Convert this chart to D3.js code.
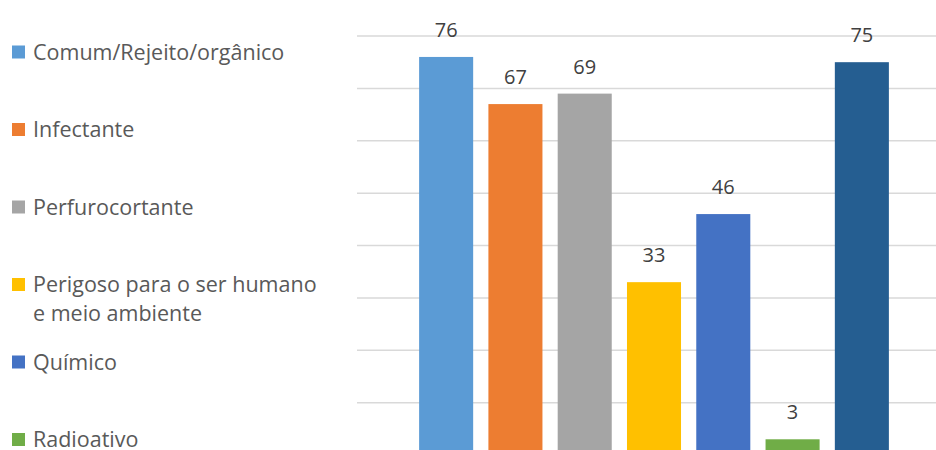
<!DOCTYPE html>
<html lang="en">
<head>
    <meta charset="UTF-8">
    <title>Resíduos</title>
    <style>
        body {
            margin: 0;
            padding: 0;
            background-color: #ffffff;
            font-family: 'Open Sans', sans-serif;
        }
        svg {
            display: block;
        }
    </style>
</head>
<body>
    <svg id="chart" width="936" height="450"></svg>
    <script src="https://d3js.org/d3.v7.min.js"></script>
    <script>
        // data
        const categories = [
            "Comum/Rejeito/orgânico",
            "Infectante",
            "Perfurocortante",
            "Perigoso para o ser humano e meio ambiente",
            "Químico",
            "Radioativo",
            "Outros"
        ];
        const values = [76, 67, 69, 33, 46, 3, 75];
        const gridTicks = [10, 20, 30, 40, 50, 60, 70, 80];
        const colors = ["#5b9bd5", "#ed7d31", "#a5a5a5", "#ffc000", "#4472c4", "#70ad47", "#255e91"];

        const svg = d3.select("#chart");

        const x = d3.scaleBand()
            .domain(categories)
            .range([411.5, 896.5])
            .paddingInner(0.22)
            .paddingOuter(0.11);

        const y = d3.scaleLinear()
            .domain([0, 80])
            .range([455, 36]);

        // gridlines
        svg.append("g")
            .selectAll("line")
            .data(gridTicks)
            .enter()
            .append("line")
            .attr("x1", 357)
            .attr("x2", 936)
            .attr("y1", d => y(d))
            .attr("y2", d => y(d))
            .attr("stroke", "#d9d9d9")
            .attr("stroke-width", 1.5);

        // bars
        svg.append("g")
            .selectAll("rect")
            .data(values)
            .enter()
            .append("rect")
            .attr("x", (d, i) => x(categories[i]))
            .attr("y", d => y(d))
            .attr("width", x.bandwidth())
            .attr("height", d => y(0) - y(d))
            .attr("fill", (d, i) => colors[i]);

        // value labels
        svg.append("g")
            .selectAll("text")
            .data(values)
            .enter()
            .append("text")
            .attr("x", (d, i) => x(categories[i]) + x.bandwidth() / 2)
            .attr("y", d => y(d) - 20)
            .attr("text-anchor", "middle")
            .attr("font-size", "20px")
            .attr("fill", "#404040")
            .text(d => d);

        // legend on the left, one entry every 77.5px
        const legend = svg.append("g");
        const wrapped = {
            "Perigoso para o ser humano e meio ambiente": ["Perigoso para o ser humano", "e meio ambiente"]
        };
        categories.forEach((c, i) => {
            const cy = 52 + i * 77.5;
            legend.append("rect")
                .attr("x", 12)
                .attr("y", cy - 6.5)
                .attr("width", 13)
                .attr("height", 13)
                .attr("fill", colors[i]);
            const lines = wrapped[c] || [c];
            const t = legend.append("text")
                .attr("x", 33)
                .attr("y", cy + 7.5)
                .attr("font-size", "21.5px")
                .attr("fill", "#595959");
            lines.forEach((l, j) => {
                t.append("tspan")
                    .attr("x", 33)
                    .attr("dy", j === 0 ? 0 : 29)
                    .text(l);
            });
        });
    </script>
</body>
</html>
